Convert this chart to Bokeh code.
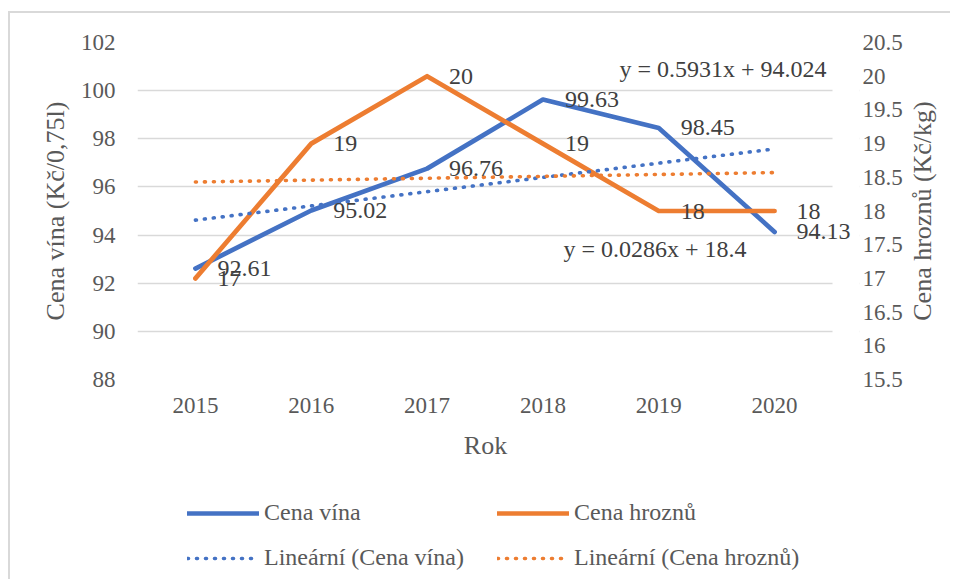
import math
import numpy as np
from bokeh.plotting import figure
from bokeh.layouts import column, row
from bokeh.models import (Range1d, LinearAxis, SingleIntervalTicker, FixedTicker,
                          NumeralTickFormatter, Legend, LegendItem, BoxAnnotation)
from bokeh.core.properties import value
from bokeh.embed import file_html
from bokeh.resources import INLINE

# ---- data ----
years = [2015, 2016, 2017, 2018, 2019, 2020]
wine_price = [92.61, 95.02, 96.76, 99.63, 98.45, 94.13]   # Cena vína (Kč/0,75l)
grape_price = [17, 19, 20, 19, 18, 18]                   # Cena hroznů (Kč/kg)
trend_years = [2015, 2020]
wine_trend = [94.62, 97.58]                              # Lineární (Cena vína)
grape_trend = [18.43, 18.57]                             # Lineární (Cena hroznů)
wine_eq = "y = 0.5931x + 94.024"
grape_eq = "y = 0.0286x + 18.4"
wine_labels = [f"{v:.2f}" for v in wine_price]
grape_labels = [f"{v:g}" for v in grape_price]
series_names = ["Cena vína", "Cena hroznů"]
trend_names = ["Lineární (Cena vína)", "Lineární (Cena hroznů)"]
left_title = "Cena vína (Kč/0,75l)"
right_title = "Cena hroznů (Kč/kg)"
x_title = "Rok"

FONT = "Liberation Serif"
BLUE = "#4472C4"
ORANGE = "#ED7D31"
GRAY = "#595959"
DARK = "#404040"

main_style = dict(line_width=4.7, line_cap="round", line_join="round")
trend_style = dict(line_width=3.6, line_dash="1 8", line_cap="round")

# plot area: one category slot per year; a little extra room on the right
# (masked below) so the last data label is not cut at the frame edge
x_start = years[0] - 0.5
x_end = years[-1] + 0.733
plot_end = years[-1] + 0.5

# ---------------- main chart ----------------
p = figure(width=895, height=466,
           x_range=Range1d(x_start, x_end),
           y_range=Range1d(88, 102),
           output_backend="svg", toolbar_location=None,
           min_border_left=127, min_border_right=45,
           min_border_top=29, min_border_bottom=100)
p.outline_line_color = None
p.background_fill_color = "white"
p.border_fill_color = "white"

p.extra_y_ranges = {"right": Range1d(15.5, 20.5)}

left = p.left[0]
left.ticker = SingleIntervalTicker(interval=2)
left.axis_label = left_title
left.major_label_standoff = 16
left.axis_label_standoff = 8

right = LinearAxis(y_range_name="right", ticker=SingleIntervalTicker(interval=0.5),
                   formatter=NumeralTickFormatter(format="0.[0]"))
right.major_label_standoff = -3
p.add_layout(right, "right")

bottom = p.below[0]
bottom.ticker = FixedTicker(ticks=years)
bottom.formatter = NumeralTickFormatter(format="0")
# trailing no-break spaces centre the title on the category slots, not the padded frame
bottom.axis_label = x_title + "\u00a0" * 4
bottom.major_label_standoff = 12
bottom.axis_label_standoff = 15

for ax in (left, right, bottom):
    ax.axis_line_color = None
    ax.major_tick_line_color = None
    ax.minor_tick_line_color = None
    ax.major_label_text_font = FONT
    ax.major_label_text_font_size = "23px"
    ax.major_label_text_color = GRAY
    ax.axis_label_text_font = FONT
    ax.axis_label_text_font_size = "26px"
    ax.axis_label_text_color = GRAY
    ax.axis_label_text_font_style = "normal"

p.xgrid.grid_line_color = None
p.ygrid.grid_line_color = "#D9D9D9"
p.ygrid.grid_line_width = 1.5

# white mask so the gridlines stop at the end of the last category slot
p.add_layout(BoxAnnotation(left=plot_end, fill_color="white", fill_alpha=1.0,
                           line_color=None, level="underlay"))

p.line(years, wine_price, color=BLUE, **main_style)
p.line(years, grape_price, y_range_name="right", color=ORANGE, **main_style)
p.line(trend_years, wine_trend, color=BLUE, **trend_style)
p.line(trend_years, grape_trend, y_range_name="right", color=ORANGE, **trend_style)

lab_kw = dict(text_font=value(FONT), text_font_size="24px", text_color=DARK,
              text_baseline="middle")
p.text(x=years, y=wine_price, text=wine_labels, x_offset=22, text_align="left", **lab_kw)
p.text(x=years, y=grape_price, text=grape_labels, x_offset=22, text_align="left",
       y_range_name="right", **lab_kw)
p.text(x=[trend_years[-1]], y=[wine_trend[-1]], text=[wine_eq], x_offset=52, y_offset=-80,
       text_align="right", **lab_kw)
p.text(x=[trend_years[-1]], y=[grape_trend[-1]], text=[grape_eq], x_offset=-28, y_offset=76,
       text_align="right", y_range_name="right", **lab_kw)

# ---------------- right axis title strip ----------------
rp = figure(width=45, height=466, x_range=Range1d(0, 1), y_range=Range1d(0, 1),
            x_axis_type=None, y_axis_type=None,
            output_backend="svg", toolbar_location=None,
            min_border_left=0, min_border_right=0, min_border_top=29, min_border_bottom=100)
rp.outline_line_color = None
rp.grid.visible = False
rp.background_fill_color = "white"
rp.border_fill_color = "white"
rp.text(x=[0.38], y=[0.5], text=[right_title], angle=math.pi / 2,
        text_align="center", text_baseline="middle",
        text_font=value(FONT), text_font_size="26px", text_color=GRAY)

# ---------------- legend strip ----------------
lp = figure(width=940, height=100, x_range=Range1d(0, 1), y_range=Range1d(0, 1),
            x_axis_type=None, y_axis_type=None,
            output_backend="svg", toolbar_location=None,
            min_border_left=127, min_border_right=117, min_border_top=0, min_border_bottom=0)
lp.outline_line_color = None
lp.grid.visible = False
lp.background_fill_color = "white"
lp.border_fill_color = "white"

nan = np.array([np.nan])
lw = lp.line(x=nan, y=nan, color=BLUE, **main_style)
lg = lp.line(x=nan, y=nan, color=ORANGE, **main_style)
lwt = lp.line(x=nan, y=nan, color=BLUE, **trend_style)
lgt = lp.line(x=nan, y=nan, color=ORANGE, **trend_style)


def make_legend(items, loc):
    leg = Legend(items=items, location=loc)
    leg.border_line_color = None
    leg.background_fill_alpha = 0
    leg.padding = 0
    leg.margin = 0
    leg.spacing = 18
    leg.glyph_width = 72
    leg.glyph_height = 24
    leg.label_height = 24
    leg.label_standoff = 5
    leg.label_text_font = FONT
    leg.label_text_font_size = "24px"
    leg.label_text_color = GRAY
    return leg


lp.add_layout(make_legend([LegendItem(label=series_names[0], renderers=[lw]),
                           LegendItem(label=trend_names[0], renderers=[lwt])], (50, 8)))
lp.add_layout(make_legend([LegendItem(label=series_names[1], renderers=[lg]),
                           LegendItem(label=trend_names[1], renderers=[lgt])], (360, 8)))

layout = column(row(p, rp, spacing=0), lp, spacing=0)
layout.styles = {"margin-left": "8px", "margin-top": "11px",
                 "border-top": "2px solid #D9D9D9", "border-left": "2px solid #D9D9D9"}

open("out.html", "w").write(file_html(layout, INLINE))
